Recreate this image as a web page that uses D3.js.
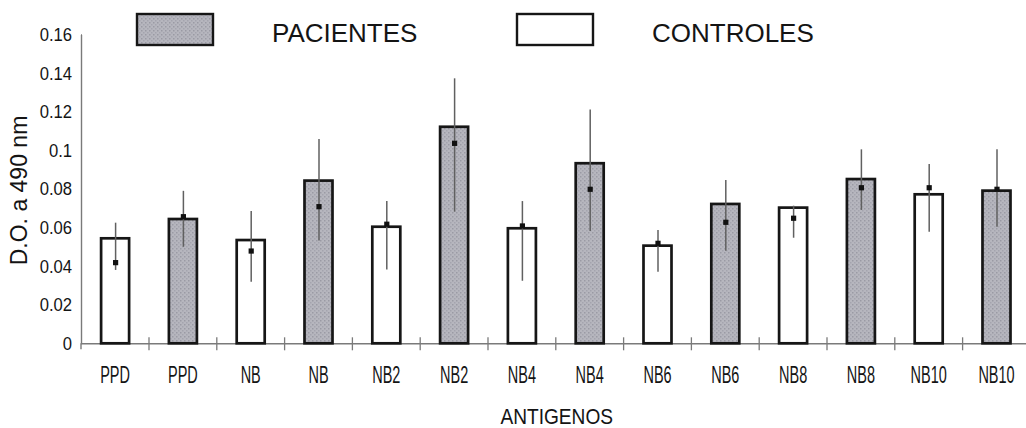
<!DOCTYPE html>
<html>
<head>
<meta charset="utf-8">
<script src="https://cdn.jsdelivr.net/npm/d3@7/dist/d3.min.js"></script>
<style>
  html, body { margin: 0; padding: 0; background: #fff; }
  svg { display: block; }
  text { font-family: "Liberation Sans", Arial, sans-serif; fill: #141414; }
</style>
</head>
<body>
<svg id="chart" width="1026" height="428"></svg>
<script>
// Antigen categories (each antigen shown for controls, then patients)
const categories = ["PPD", "PPD", "NB", "NB", "NB2", "NB2", "NB4", "NB4",
                    "NB6", "NB6", "NB8", "NB8", "NB10", "NB10"];
const groups = ["CONTROLES", "PACIENTES", "CONTROLES", "PACIENTES", "CONTROLES", "PACIENTES",
                "CONTROLES", "PACIENTES", "CONTROLES", "PACIENTES", "CONTROLES", "PACIENTES",
                "CONTROLES", "PACIENTES"];
// Bar heights (optical density at 490 nm)
const barValues = [0.0544, 0.0644, 0.0535, 0.0843, 0.0604, 0.1122, 0.0596,
                   0.0933, 0.0506, 0.0722, 0.0703, 0.0851, 0.0772, 0.0791];
// Point markers
const pointValues = [0.0418, 0.0656, 0.0478, 0.0708, 0.0617, 0.1036, 0.0608,
                     0.0798, 0.0518, 0.0627, 0.0648, 0.0806, 0.0806, 0.0798];
// Error bar extents
const errHigh = [0.0625, 0.0790, 0.0685, 0.1059, 0.0737, 0.1373, 0.0737,
                 0.1212, 0.0587, 0.0846, 0.0713, 0.1005, 0.0929, 0.1005];
const errLow = [0.0380, 0.0500, 0.0319, 0.0532, 0.0383, 0.0682, 0.0324,
                0.0582, 0.0371, 0.0480, 0.0547, 0.0691, 0.0578, 0.0604];
// Y axis ticks
const yTickValues = [0, 0.02, 0.04, 0.06, 0.08, 0.1, 0.12, 0.14, 0.16];
const yTickLabels = ["0", "0.02", "0.04", "0.06", "0.08", "0.1", "0.12", "0.14", "0.16"];
const legendItems = ["PACIENTES", "CONTROLES"];

const svg = d3.select("#chart");

// Stippled grey texture for the patient bars
const defs = svg.append("defs");
const pat = defs.append("pattern")
  .attr("id", "stipple").attr("patternUnits", "userSpaceOnUse")
  .attr("width", 4).attr("height", 4);
pat.append("rect").attr("width", 4).attr("height", 4).attr("fill", "#b6b6be");
pat.append("rect").attr("x", 0).attr("y", 0).attr("width", 1.5).attr("height", 1.5).attr("fill", "#9a9aa4");
pat.append("rect").attr("x", 2).attr("y", 2).attr("width", 1.5).attr("height", 1.5).attr("fill", "#a4a4ae");

const fillFor = g => g === "PACIENTES" ? "url(#stipple)" : "#ffffff";

const idx = d3.range(categories.length);
const x = d3.scaleBand()
  .domain(idx)
  .range([81.2, 1030.4])
  .paddingInner(0.587)
  .paddingOuter(0.2935);

const y = d3.scaleLinear().domain([0, 0.16]).range([343.3, 34.5]);

const axisColor = "#7a7a7a";

// Y axis
const yAxis = svg.append("g")
  .attr("transform", "translate(81,0)")
  .call(d3.axisLeft(y)
    .tickValues(yTickValues)
    .tickFormat((d, i) => yTickLabels[i])
    .tickSizeInner(5).tickSizeOuter(0).tickPadding(5));
yAxis.select(".domain").attr("stroke", axisColor).attr("stroke-width", 1.4);
yAxis.selectAll(".tick line").attr("stroke", axisColor).attr("stroke-width", 1.3).attr("x2", 1);
yAxis.selectAll(".tick text")
  .attr("font-size", 18.5).attr("fill", "#141414")
  .attr("font-family", "'Liberation Sans', Arial, sans-serif")
  .attr("transform", "scale(0.9,1)");
// short stub of the vertical axis below zero
svg.append("line")
  .attr("x1", 81).attr("x2", 81).attr("y1", y(0)).attr("y2", y(0) + 6)
  .attr("stroke", axisColor).attr("stroke-width", 1.4);

// X axis (labels at band centres, crossing ticks at band boundaries)
const xAxis = svg.append("g")
  .attr("transform", `translate(0,${y(0)})`)
  .call(d3.axisBottom(x)
    .tickFormat(i => categories[i])
    .tickSize(0).tickPadding(24));
xAxis.select(".domain").attr("stroke", axisColor).attr("stroke-width", 1.5);
xAxis.selectAll(".tick text")
  .attr("font-size", 23).attr("fill", "#141414")
  .attr("font-family", "'Liberation Sans', Arial, sans-serif")
  .attr("dy", 0)
  .attr("y", 39.6)
  .attr("transform", "scale(0.63,1)");

const gap = (x.step() - x.bandwidth()) / 2;
svg.append("g").selectAll("line")
  .data(idx.slice(1))
  .join("line")
  .attr("x1", i => x(i) - gap).attr("x2", i => x(i) - gap)
  .attr("y1", y(0) - 6).attr("y2", y(0) + 7)
  .attr("stroke", axisColor).attr("stroke-width", 1.3);

// Bars
svg.append("g").selectAll("rect")
  .data(idx)
  .join("rect")
  .attr("x", i => x(i))
  .attr("y", i => y(barValues[i]))
  .attr("width", x.bandwidth())
  .attr("height", i => y(0) - y(barValues[i]))
  .attr("fill", i => fillFor(groups[i]))
  .attr("stroke", "#161616")
  .attr("stroke-width", 2.7);

// Error bars
svg.append("g").selectAll("line")
  .data(idx)
  .join("line")
  .attr("x1", i => x(i) + x.bandwidth() / 2 + 0.5)
  .attr("x2", i => x(i) + x.bandwidth() / 2 + 0.5)
  .attr("y1", i => y(errHigh[i]))
  .attr("y2", i => y(errLow[i]))
  .attr("stroke", "#606060")
  .attr("stroke-width", 1.5);

// Point markers
svg.append("g").selectAll("rect")
  .data(idx)
  .join("rect")
  .attr("x", i => x(i) + x.bandwidth() / 2 + 0.5 - 2.6)
  .attr("y", i => y(pointValues[i]) - 2.6)
  .attr("width", 5.2).attr("height", 5.2)
  .attr("fill", "#111");

// Axis titles
svg.append("text")
  .attr("transform", "translate(27,190.5) rotate(-90)")
  .attr("text-anchor", "middle")
  .attr("font-size", 23)
  .text("D.O. a 490 nm");

svg.append("text")
  .attr("transform", "translate(556.7,424) scale(0.85,1)")
  .attr("text-anchor", "middle")
  .attr("font-size", 22.5)
  .text("ANTIGENOS");

// Legend
const legendX = d3.scalePoint().domain(legendItems).range([137, 517]);
const leg = svg.append("g").selectAll("g")
  .data(legendItems)
  .join("g")
  .attr("transform", d => `translate(${legendX(d)},14)`);
leg.append("rect")
  .attr("width", 76).attr("height", 31)
  .attr("fill", d => fillFor(d))
  .attr("stroke", "#161616").attr("stroke-width", 2.4);
leg.append("text")
  .attr("x", 135).attr("y", 28)
  .attr("font-size", 26)
  .text(d => d);
</script>
</body>
</html>
